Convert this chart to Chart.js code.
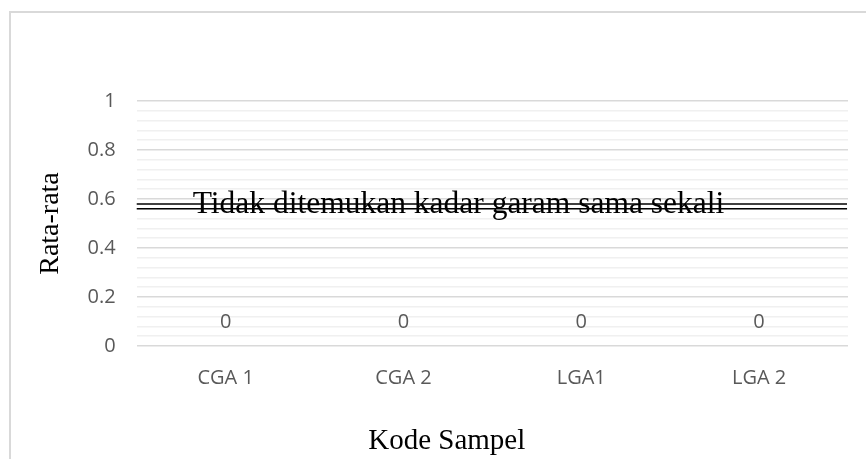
<!DOCTYPE html>
<html>
<head>
<meta charset="utf-8">
<script src="https://cdn.jsdelivr.net/npm/chart.js@4/dist/chart.umd.min.js"></script>
<style>
  html, body { margin: 0; padding: 0; background: #fff; }
  #wrap { position: relative; width: 866px; height: 459px; }
</style>
</head>
<body>
<div id="wrap"><canvas id="grafikGaram" width="866" height="459"></canvas></div>
<script>
// Data kadar garam per sampel
const categories = ['CGA 1', 'CGA 2', 'LGA1', 'LGA 2'];
const rataRata = [0, 0, 0, 0];
const majorStep = 0.2;
const minorStep = 0.04;
const noteLevel = 0.57;
const noteText = 'Tidak ditemukan kadar garam sama sekali';
const xTitle = 'Kode Sampel';
const yTitle = 'Rata-rata';

const grey = '#595959';
const tickFont = { family: '"Open Sans", sans-serif', size: 20 };

function isMajor(v) {
    return Math.abs(v / majorStep - Math.round(v / majorStep)) < 1e-6;
}

// Bingkai, garis keterangan, label data dan judul sumbu x
const extras = {
    id: 'extras',
    beforeDraw(chart) {
        const c = chart.ctx;
        c.save();
        c.strokeStyle = '#d9d9d9';
        c.lineWidth = 2;
        c.beginPath();
        c.moveTo(10, chart.height);
        c.lineTo(10, 12);
        c.lineTo(chart.width, 12);
        c.stroke();
        c.restore();
    },
    afterDraw(chart) {
        const c = chart.ctx;
        const area = chart.chartArea;
        const y = chart.scales.y;
        const meta = chart.getDatasetMeta(0);
        c.save();

        // label nilai
        c.fillStyle = grey;
        c.font = '20px "Open Sans", sans-serif';
        c.textAlign = 'center';
        c.textBaseline = 'middle';
        meta.data.forEach((bar, i) => {
            c.fillText(String(rataRata[i]), bar.x, y.getPixelForValue(rataRata[i]) - 24);
        });

        // garis ganda keterangan
        const ly = y.getPixelForValue(noteLevel);
        c.strokeStyle = '#000';
        c.lineWidth = 1.5;
        [-2.3, 2.3].forEach(d => {
            c.beginPath();
            c.moveTo(area.left, ly + d);
            c.lineTo(area.right - 1, ly + d);
            c.stroke();
        });
        c.fillStyle = '#000';
        c.font = '31.5px "Liberation Serif", "Times New Roman", serif';
        c.textAlign = 'left';
        c.textBaseline = 'alphabetic';
        c.fillText(noteText, area.left + 56, ly + 7);

        // judul sumbu x
        c.font = '29px "Liberation Serif", "Times New Roman", serif';
        c.textAlign = 'center';
        c.textBaseline = 'middle';
        c.fillText(xTitle, area.left + 310, area.bottom + 95);
        c.restore();
    }
};

const config = {
    type: 'bar',
    data: {
        labels: categories,
        datasets: [{
            label: 'Rata-rata',
            data: rataRata,
            backgroundColor: '#4472c4',
            borderWidth: 0
        }]
    },
    options: {
        responsive: false,
        animation: false,
        layout: { padding: { left: 34, top: 101, right: 18, bottom: 49 } },
        plugins: {
            legend: { display: false },
            tooltip: { enabled: false }
        },
        scales: {
            x: {
                grid: { display: false, drawTicks: false },
                border: { display: false },
                ticks: { color: grey, font: tickFont, padding: 20 }
            },
            y: {
                min: 0,
                max: 1,
                border: { display: false },
                grid: {
                    drawTicks: false,
                    lineWidth: 1.5,
                    color: ctx => isMajor(ctx.tick.value) ? '#d9d9d9' : '#f0f0f0'
                },
                ticks: {
                    stepSize: minorStep,
                    autoSkip: false,
                    color: grey,
                    font: tickFont,
                    padding: 21,
                    callback: v => isMajor(v) ? String(Math.round(v * 10) / 10) : ''
                },
                title: {
                    display: true,
                    text: yTitle,
                    color: '#000',
                    font: { family: '"Liberation Serif", "Times New Roman", serif', size: 28 },
                    padding: { top: 0, bottom: -1 }
                }
            }
        }
    },
    plugins: [extras]
};

const ctx = document.getElementById('grafikGaram').getContext('2d');
new Chart(ctx, config);
</script>
</body>
</html>
